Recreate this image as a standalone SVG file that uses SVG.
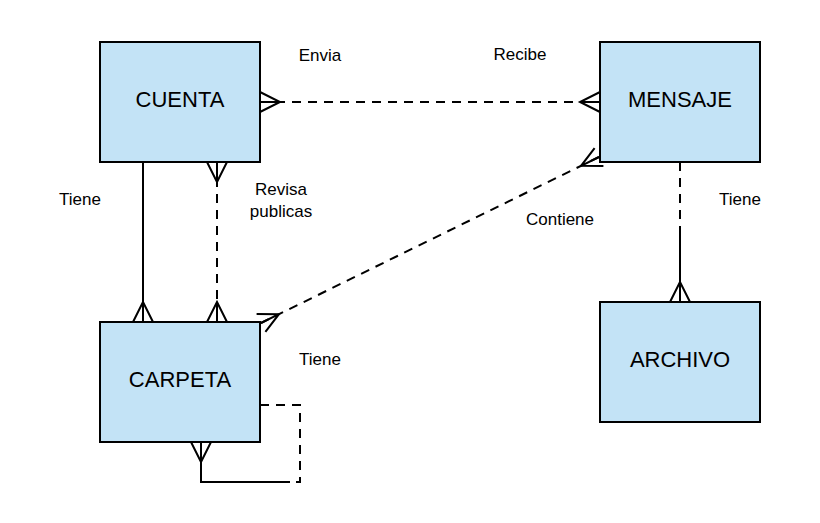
<svg xmlns="http://www.w3.org/2000/svg" width="820" height="523" viewBox="0 0 820 523">
  <style>
    .box { fill: #c3e3f6; stroke: #000; stroke-width: 2; }
    .title { font-family: "Liberation Sans", Arial, sans-serif; font-size: 22px; fill: #000; text-anchor: middle; }
    .lbl { font-family: "Liberation Sans", Arial, sans-serif; font-size: 17px; fill: #000; text-anchor: middle; }
    .edge { fill: none; stroke: #000; stroke-width: 2; }
    .dash { stroke-dasharray: 9 7; }
  </style>
  <defs>
    <marker id="many" markerUnits="userSpaceOnUse" markerWidth="26" markerHeight="26" viewBox="-23 -13 26 26" refX="0" refY="0" orient="auto" overflow="visible">
      <path d="M0,-10 L-20,0 L0,10 M-20,0 H0" fill="none" stroke="#000" stroke-width="2" stroke-dasharray="none"/>
    </marker>
    <marker id="manyStart" markerUnits="userSpaceOnUse" markerWidth="26" markerHeight="26" viewBox="-23 -13 26 26" refX="0" refY="0" orient="auto-start-reverse" overflow="visible">
      <path d="M0,-10 L-20,0 L0,10 M-20,0 H0" fill="none" stroke="#000" stroke-width="2" stroke-dasharray="none"/>
    </marker>
  </defs>
  <rect width="820" height="523" fill="#fff"/>

  <g id="connectors">
    <path class="edge dash" d="M260,102 H600" marker-start="url(#manyStart)" marker-end="url(#many)"/>
    <path class="edge" d="M143,162 V322" marker-end="url(#many)"/>
    <path class="edge dash" d="M217,162 V322" marker-start="url(#manyStart)" marker-end="url(#many)"/>
    <path class="edge dash" d="M599,157 L261,323" marker-start="url(#manyStart)" marker-end="url(#many)"/>
    <path class="edge dash" d="M680,162 V232"/>
    <path class="edge" d="M680,232 V302" marker-end="url(#many)"/>
    <path class="edge dash" d="M260,405 H300 V482 H290"/>
    <path class="edge" d="M290,482 H201 V442" marker-end="url(#many)"/>
  </g>

  <g id="labels">
    <text class="lbl" x="320" y="61">Envia</text>
    <text class="lbl" x="520" y="60">Recibe</text>
    <text class="lbl" x="80" y="205">Tiene</text>
    <text class="lbl" x="281" y="195">Revisa</text>
    <text class="lbl" x="281" y="217">publicas</text>
    <text class="lbl" x="560" y="225">Contiene</text>
    <text class="lbl" x="740" y="205">Tiene</text>
    <text class="lbl" x="320" y="365">Tiene</text>
  </g>

  <g id="cuenta">
    <rect class="box" x="100" y="42" width="160" height="120"/>
    <text class="title" x="180" y="107">CUENTA</text>
  </g>
  <g id="mensaje">
    <rect class="box" x="600" y="42" width="160" height="120"/>
    <text class="title" x="680" y="107">MENSAJE</text>
  </g>
  <g id="carpeta">
    <rect class="box" x="100" y="322" width="160" height="120"/>
    <text class="title" x="180" y="387">CARPETA</text>
  </g>
  <g id="archivo">
    <rect class="box" x="600" y="302" width="160" height="120"/>
    <text class="title" x="680" y="367">ARCHIVO</text>
  </g>
</svg>
